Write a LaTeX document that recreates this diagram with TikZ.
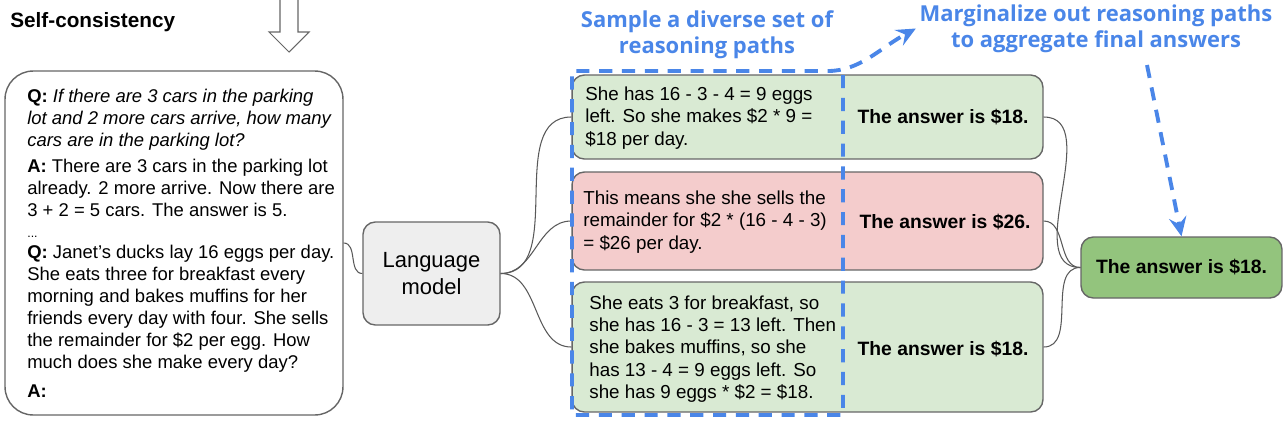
\documentclass[tikz,border=0pt]{standalone}
\usepackage{fontspec}
\setmainfont{Liberation Sans}
\newfontfamily\titlefont{Open Sans}
\usepackage{tikz}
\usetikzlibrary{positioning,arrows.meta,calc}
\usepackage{xcolor}
\definecolor{sampleblue}{HTML}{4A86E8}
\definecolor{rightgreen}{HTML}{D9EAD3}
\definecolor{wrongred}{HTML}{F4CCCC}
\definecolor{finalgreen}{HTML}{93C47D}
\definecolor{lmgray}{HTML}{EEEEEE}
\definecolor{edgegray}{HTML}{666666}

\begin{document}
\begin{tikzpicture}[x=0.02cm, y=-0.02cm,
    promptBox/.style={rectangle, rounded corners=16pt, draw=edgegray, line width=0.8pt, minimum width=6.76cm, minimum height=6.88cm},
    lmBox/.style={rectangle, rounded corners=7pt, draw=edgegray, fill=lmgray, line width=0.8pt, minimum width=2.74cm, minimum height=2.06cm, align=center, font=\fontsize{12.5}{15}\selectfont},
    pathBox/.style={rectangle, rounded corners=7pt, draw=edgegray, line width=0.8pt, minimum width=9.42cm},
    finalBox/.style={rectangle, rounded corners=7pt, draw=edgegray, fill=finalgreen, line width=0.8pt, minimum width=4.02cm, minimum height=1.22cm, font=\fontsize{11}{13}\selectfont\bfseries},
    pathText/.style={anchor=west, align=left, inner sep=0pt, font=\fontsize{10.7}{12.6}\selectfont},
    answerText/.style={font=\fontsize{11}{13}\selectfont\bfseries},
    blueNote/.style={align=center, text=sampleblue, inner sep=2pt, font=\titlefont\bfseries\fontsize{12.5}{14.8}\selectfont},
    blueDash/.style={draw=sampleblue, line width=2.2pt, dash pattern=on 7.5pt off 5.5pt},
    blueArrow/.style={blueDash, -{Stealth[length=11pt, width=10pt, inset=4pt]}},
    linkLine/.style={draw=black!65, line width=0.6pt}
]
    \useasboundingbox (0,0) rectangle (1285,420);

    % Titolo e freccia
    \node[anchor=west, inner sep=0pt, font=\fontsize{11.8}{14}\selectfont\bfseries] (title) at (10,22) {Self-consistency};
    \draw[draw=edgegray, line width=0.6pt] (280,0) -- (280,32) -- (269,32) -- (289,52) -- (309,32) -- (298,32) -- (298,0);

    % Prompt
    \node[promptBox] (prompt) at (174,243) {};
    \node[anchor=north west, align=left, inner sep=0pt, font=\fontsize{10.5}{12.5}\selectfont] (promptText) at (27,89) {
        \textbf{Q:} \textit{If there are 3 cars in the parking}\\
        \textit{lot and 2 more cars arrive, how many}\\
        \textit{cars are in the parking lot?}\\[2.3pt]
        \textbf{A:} There are 3 cars in the parking lot\\
        already. 2 more arrive. Now there are\\
        3 + 2 = 5 cars. The answer is 5.\\[-0.6pt]
        {\scriptsize ...}\\[-0.6pt]
        \textbf{Q:} Janet’s ducks lay 16 eggs per day.\\
        She eats three for breakfast every\\
        morning and bakes muffins for her\\
        friends every day with four. She sells\\
        the remainder for \$2 per egg. How\\
        much does she make every day?\\[4pt]
        \textbf{A:}};

    % Modello
    \node[lmBox] (lm) at (431.5,273.5) {Language\\model};
    \draw[linkLine] (prompt.east) to[out=0, in=180] (lm.west);

    % Percorsi di ragionamento
    \node[pathBox, fill=rightgreen, minimum height=1.68cm] (path1) at (807.5,117) {};
    \node[pathBox, fill=wrongred, minimum height=1.96cm] (path2) at (807.5,221) {};
    \node[pathBox, fill=rightgreen, minimum height=2.6cm] (path3) at (807.5,347) {};

    \node[pathText] (reason1) at (585,118) {She has 16 - 3 - 4 = 9 eggs\\left. So she makes \$2 * 9 =\\\$18 per day.};
    \node[pathText] (reason2) at (583,222) {This means she she sells the\\remainder for \$2 * (16 - 4 - 3)\\= \$26 per day.};
    \node[pathText] (reason3) at (589,349) {She eats 3 for breakfast, so\\she has 16 - 3 = 13 left. Then\\she bakes muffins, so she\\has 13 - 4 = 9 eggs left. So\\she has 9 eggs * \$2 = \$18.};

    \node[answerText] (answer1) at (943,117) {The answer is \$18.};
    \node[answerText] (answer2) at (945,222) {The answer is \$26.};
    \node[answerText] (answer3) at (943,349) {The answer is \$18.};

    \draw[linkLine] (lm.east) to[out=0, in=180] (path1.west);
    \draw[linkLine] (lm.east) to[out=0, in=180] (path2.west);
    \draw[linkLine] (lm.east) to[out=0, in=180] (path3.west);

    % Risposta finale
    \node[finalBox] (final) at (1181.5,267.5) {The answer is \$18.};
    \draw[linkLine] (path1.east) to[out=0, in=180] (final.west);
    \draw[linkLine] (path2.east) to[out=0, in=180] (final.west);
    \draw[linkLine] (path3.east) to[out=0, in=180] (final.west);

    % Note blu
    \node[blueNote] (sampleNote) at (707,35) {Sample a diverse set of\\reasoning paths};
    \node[blueNote] (margNote) at (1096,28.5) {Marginalize out reasoning paths\\to aggregate final answers};

    \coordinate (frameNE) at (843,75);
    \coordinate (frameSE) at (843,415);
    \coordinate (frameSW) at (572,415);
    \coordinate (frameNW) at (572,71);
    \coordinate (frameBend) at (828,71);
    \draw[blueArrow] (frameNE) -- (frameSE) -- (frameSW) -- (frameNW) -- (frameBend) .. controls (860,71) and (880,48) .. (margNote.west);

    \coordinate (margFoot) at (1147,65);
    \draw[blueArrow] (margFoot) -- (final.north);
\end{tikzpicture}
\end{document}
